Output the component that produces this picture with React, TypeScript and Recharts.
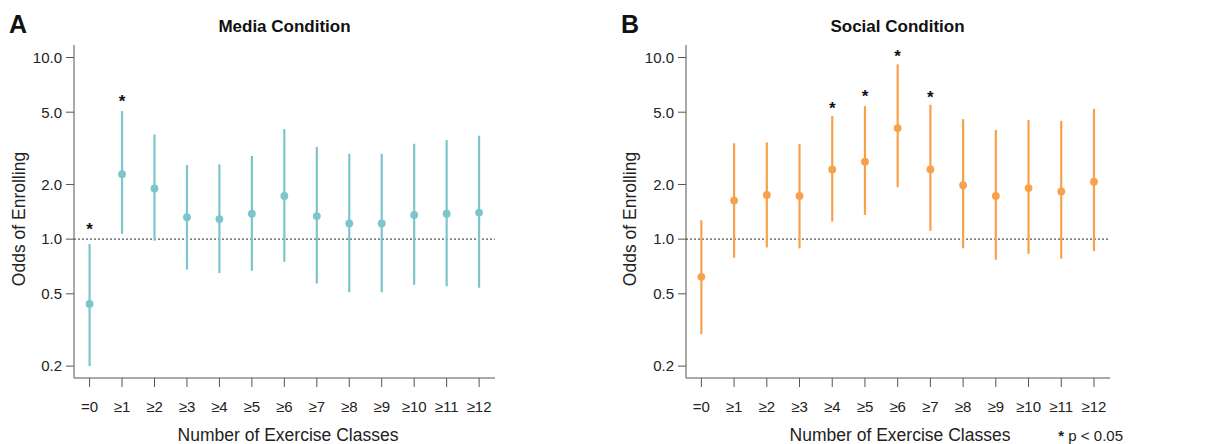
import React from "react";
import { ScatterChart, Scatter, XAxis, YAxis, ErrorBar, ReferenceLine } from "recharts";

const categories = ["=0", "≥1", "≥2", "≥3", "≥4", "≥5", "≥6", "≥7", "≥8", "≥9", "≥10", "≥11", "≥12"];
const yTicks = [0.2, 0.5, 1, 2, 5, 10];

const mediaOdds = [0.44, 2.28, 1.9, 1.32, 1.29, 1.38, 1.73, 1.34, 1.22, 1.22, 1.36, 1.38, 1.4];
const mediaLow = [0.2, 1.07, 0.98, 0.68, 0.65, 0.67, 0.75, 0.57, 0.51, 0.51, 0.56, 0.55, 0.54];
const mediaHigh = [0.94, 5.07, 3.77, 2.56, 2.58, 2.87, 4.04, 3.22, 2.95, 2.95, 3.35, 3.51, 3.71];
const mediaSigIdx = [0, 1];
const mediaSigLevel = [1.19, 6.08];

const socialOdds = [0.62, 1.63, 1.75, 1.73, 2.42, 2.67, 4.09, 2.42, 1.98, 1.73, 1.91, 1.83, 2.07];
const socialLow = [0.3, 0.79, 0.9, 0.89, 1.25, 1.36, 1.93, 1.11, 0.89, 0.77, 0.83, 0.78, 0.86];
const socialHigh = [1.27, 3.37, 3.41, 3.34, 4.76, 5.4, 9.17, 5.5, 4.58, 3.99, 4.53, 4.48, 5.22];
const socialSigIdx = [4, 5, 6, 7];
const socialSigLevel = [5.54, 6.47, 10.74, 6.39];

const FONT = "'Liberation Sans', Arial, Helvetica, sans-serif";
const TEAL = "#7cc5cc";
const ORANGE = "#f8a14d";
const AXIS = "#555555";

function buildRows(odds: number[], low: number[], high: number[]) {
  return odds.map((v, i) => ({ x: i, y: v, err: [v - low[i], high[i] - v] }));
}
function buildStars(idx: number[], level: number[]) {
  return idx.map((i, k) => ({ x: i, y: level[k] }));
}

const Dot = (color: string) => (props: any) => {
  const { cx, cy } = props;
  if (cx == null || cy == null) return <g />;
  return <circle cx={cx} cy={cy} r={3.9} fill={color} />;
};

const Star = (props: any) => {
  const { cx, cy } = props;
  if (cx == null || cy == null) return <g />;
  return (
    <text x={cx} y={cy + 10} textAnchor="middle" fontFamily={FONT} fontWeight="bold" fontSize={17} fill="#111">
      *
    </text>
  );
};

function Panel(props: {
  odds: number[];
  low: number[];
  high: number[];
  sigIdx: number[];
  sigLevel: number[];
  color: string;
  rightMargin: number;
  xDomain: [number, number];
}) {
  const rows = buildRows(props.odds, props.low, props.high);
  const stars = buildStars(props.sigIdx, props.sigLevel);
  return (
    <ScatterChart width={520} height={444} margin={{ top: 45, right: props.rightMargin, bottom: 0, left: 0 }}>
      <XAxis
        type="number"
        dataKey="x"
        domain={props.xDomain}
        allowDataOverflow
        ticks={categories.map((_, i) => i)}
        tickFormatter={(v: number) => categories[v]}
        interval={0}
        height={66}
        tickSize={9}
        tickMargin={14}
        stroke={AXIS}
        tick={{ fill: "#222", fontSize: 15, fontFamily: FONT }}
      />
      <YAxis
        type="number"
        dataKey="y"
        scale="log"
        domain={[0.172, 11.72]}
        allowDataOverflow
        ticks={yTicks}
        tickFormatter={(v: number) => v.toFixed(1)}
        width={74}
        tickSize={8}
        tickMargin={4}
        stroke={AXIS}
        tick={{ fill: "#222", fontSize: 15, fontFamily: FONT }}
      />
      <ReferenceLine y={1} stroke="#555" strokeDasharray="2 2" strokeWidth={1.3} />
      <Scatter data={rows} fill={props.color} shape={Dot(props.color)} isAnimationActive={false}>
        <ErrorBar dataKey="err" direction="y" width={0} stroke={props.color} strokeWidth={2.2} isAnimationActive={false} />
      </Scatter>
      <Scatter data={stars} shape={Star} isAnimationActive={false} />
    </ScatterChart>
  );
}

export default function App() {
  return (
    <div style={{ position: "absolute", left: 0, top: 0, width: 1225, height: 444, background: "#fff", overflow: "hidden" }}>
      <div style={{ position: "absolute", left: 0, top: 0 }}>
        <Panel
          odds={mediaOdds}
          low={mediaLow}
          high={mediaHigh}
          sigIdx={mediaSigIdx}
          sigLevel={mediaSigLevel}
          color={TEAL}
          rightMargin={25}
          xDomain={[-0.48, 12.49]}
        />
      </div>
      <div style={{ position: "absolute", left: 612, top: 0 }}>
        <Panel
          odds={socialOdds}
          low={socialLow}
          high={socialHigh}
          sigIdx={socialSigIdx}
          sigLevel={socialSigLevel}
          color={ORANGE}
          rightMargin={22}
          xDomain={[-0.47, 12.49]}
        />
      </div>
      <svg width={1225} height={444} style={{ position: "absolute", left: 0, top: 0, pointerEvents: "none" }}>
        <g fontFamily={FONT} fill="#111">
          <text x={9} y={33} fontSize={25} fontWeight="bold">A</text>
          <text x={621} y={33} fontSize={25} fontWeight="bold">B</text>
          <text x={284.5} y={32} fontSize={17} fontWeight="bold" textAnchor="middle">Media Condition</text>
          <text x={897.5} y={32} fontSize={17} fontWeight="bold" textAnchor="middle">Social Condition</text>
          <text x={288} y={441} fontSize={17.5} textAnchor="middle" fill="#222">Number of Exercise Classes</text>
          <text x={900} y={441} fontSize={17.5} textAnchor="middle" fill="#222">Number of Exercise Classes</text>
          <text transform="translate(25,219) rotate(-90)" fontSize={17.5} textAnchor="middle" fill="#222">Odds of Enrolling</text>
          <text transform="translate(635.5,219) rotate(-90)" fontSize={17.5} textAnchor="middle" fill="#222">Odds of Enrolling</text>
          <text x={1123} y={441} fontSize={15} textAnchor="end" fill="#222">
            <tspan fontWeight="bold">*</tspan> p &lt; 0.05
          </text>
        </g>
      </svg>
    </div>
  );
}
